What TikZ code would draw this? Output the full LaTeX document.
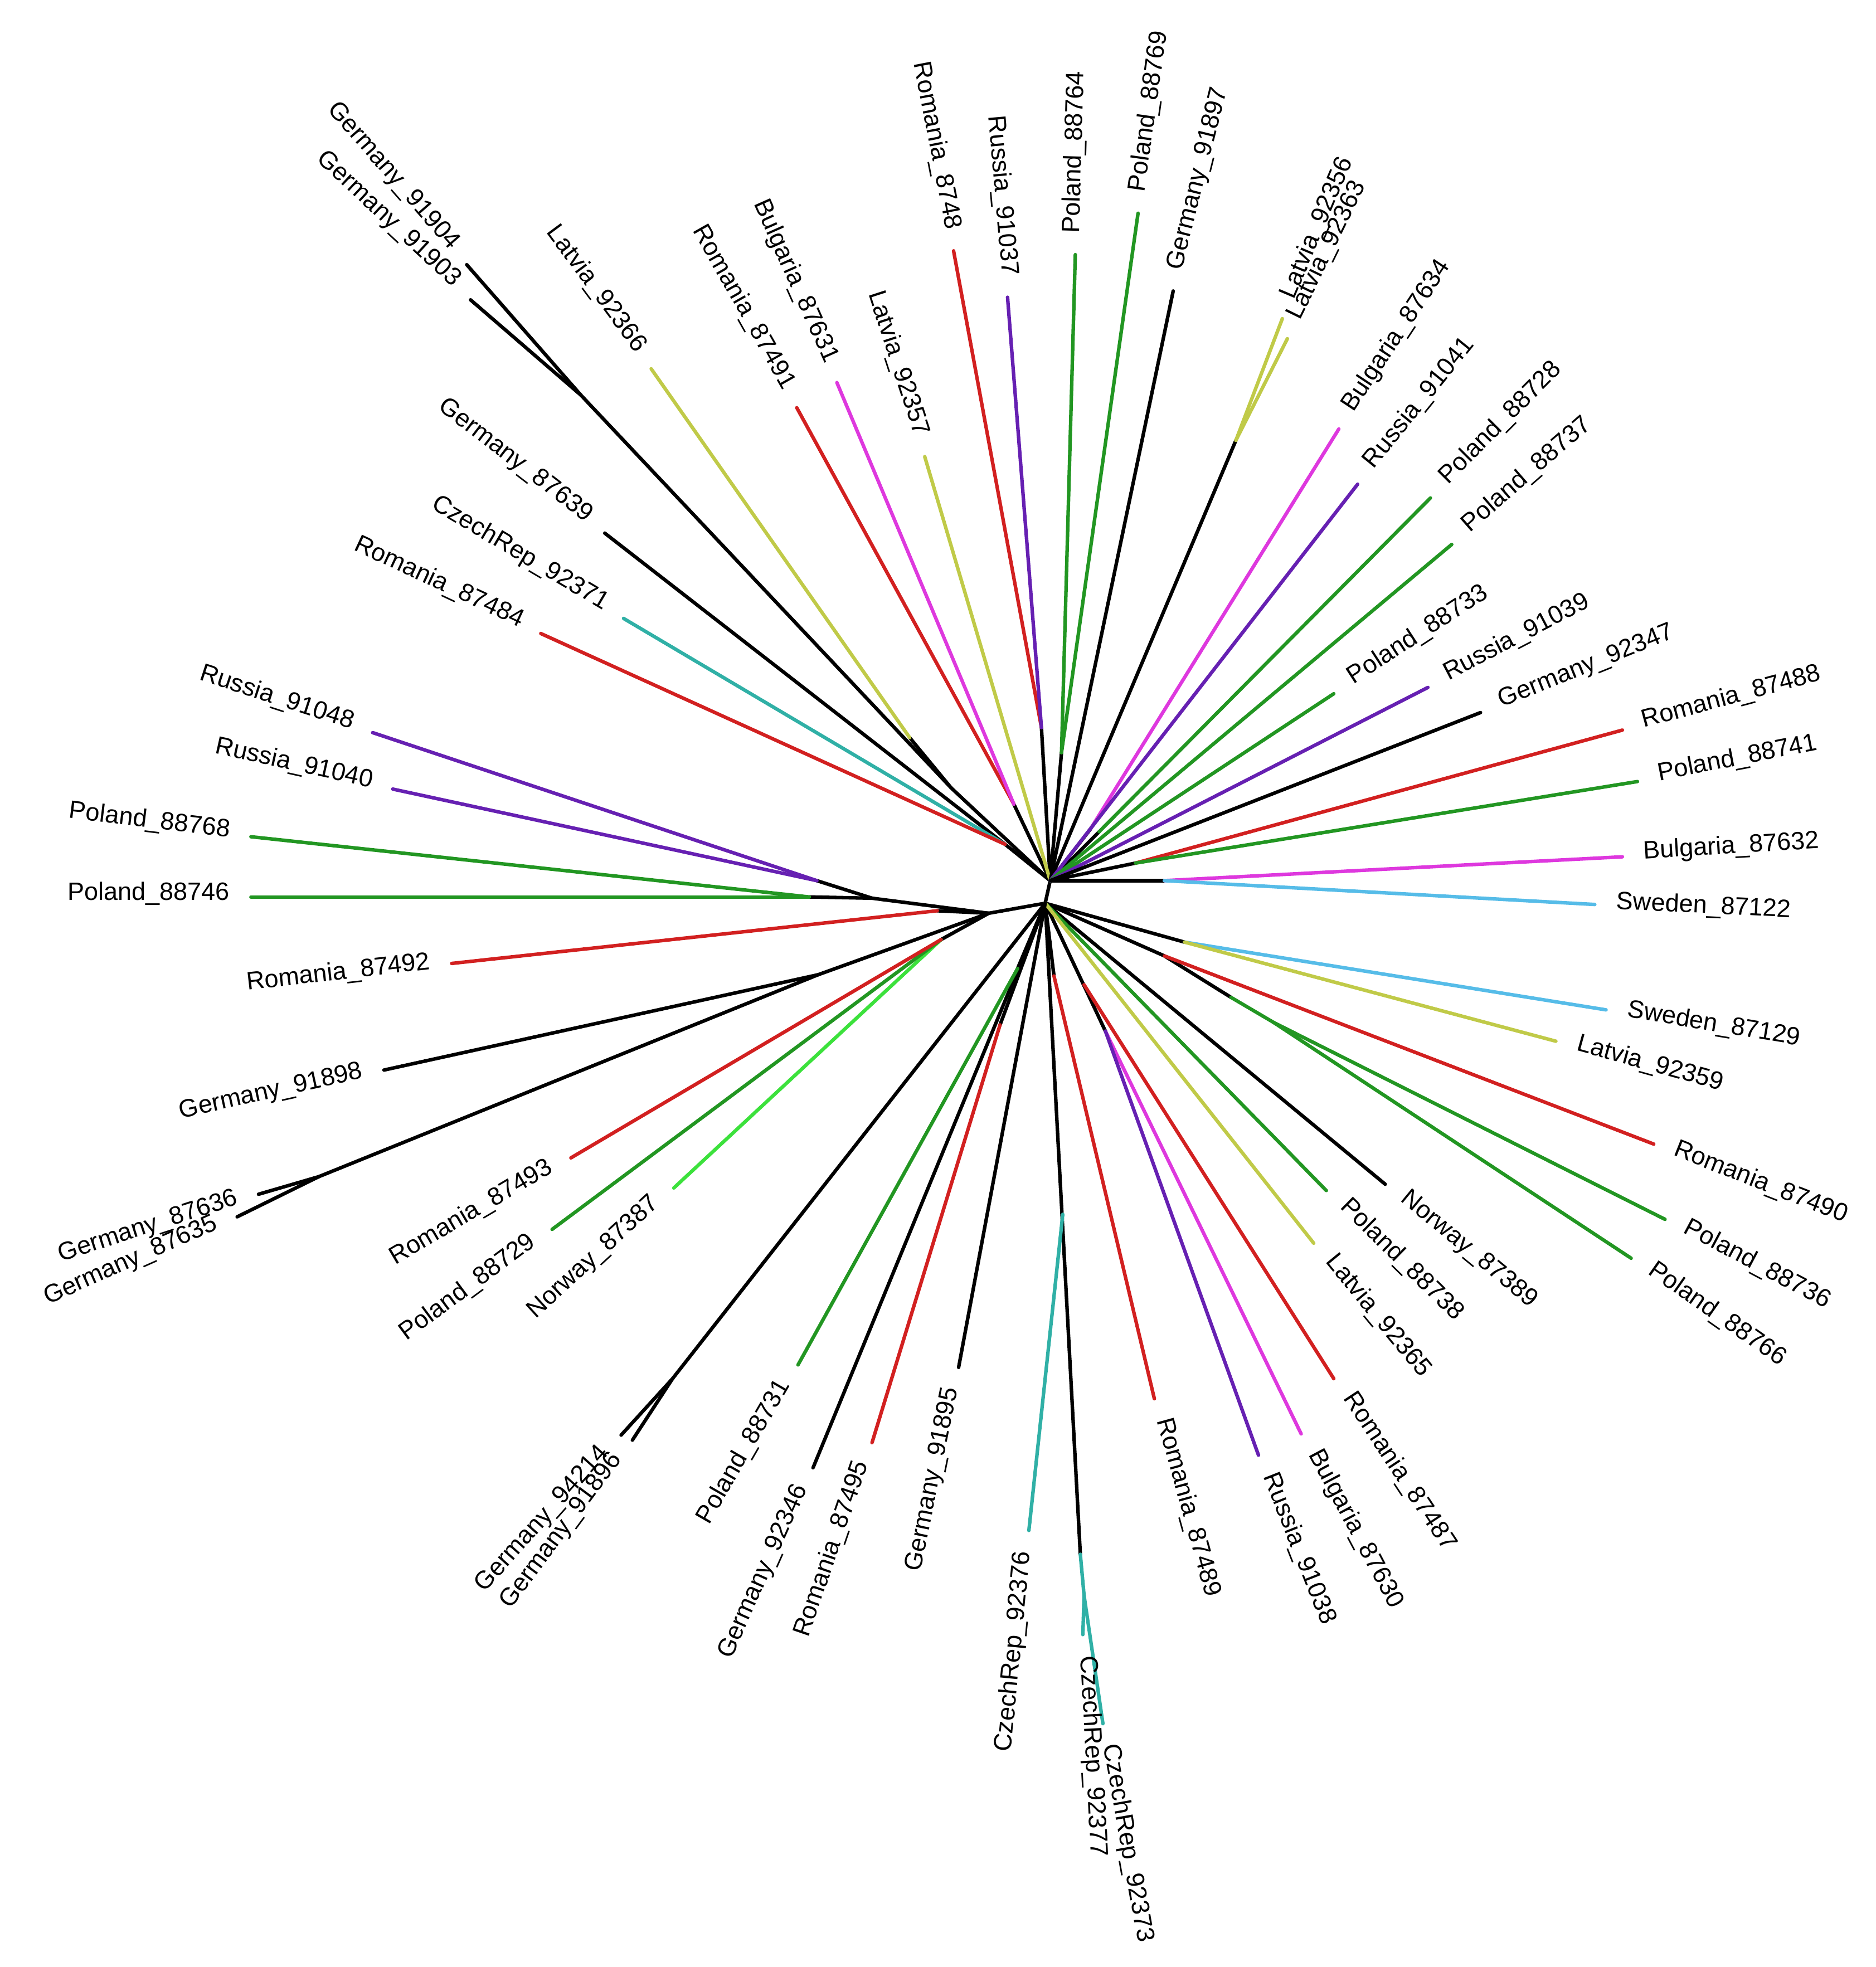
\documentclass[tikz,border=0pt]{standalone}
\usepackage{fontspec}
\setmainfont{Liberation Sans}
\newcommand\lblfont{\fontsize{20}{24}\selectfont}
\definecolor{cred}{RGB}{210,32,32}
\definecolor{cgreen}{RGB}{34,150,34}
\definecolor{clime}{RGB}{60,225,60}
\definecolor{cpurple}{RGB}{102,32,178}
\definecolor{cmag}{RGB}{222,56,222}
\definecolor{cyel}{RGB}{192,202,72}
\definecolor{cteal}{RGB}{48,176,166}
\definecolor{cblue}{RGB}{86,188,232}
\begin{document}
\begin{tikzpicture}[x=1pt,y=-1pt,
  br/.style={line width=2.8pt, line cap=round},
  lab/.style={font=\lblfont, inner sep=17pt},
  labL/.style={lab, anchor=mid east},
  labR/.style={lab, anchor=mid west}]
\useasboundingbox (0,0) rectangle (1495,1568);
% internal nodes
\coordinate (U) at (837,702);
\coordinate (L) at (833,720);
\coordinate (H) at (788,728);
\coordinate (A) at (801,673);
\coordinate (B1) at (463,315);
\coordinate (B2) at (758,628);
\coordinate (Y1) at (725,588);
\coordinate (Cn) at (808,641);
\coordinate (C) at (830,580);
\coordinate (D) at (846,600);
\coordinate (Y2) at (985,351);
\coordinate (mBk) at (869,661);
\coordinate (gBk) at (876,663);
\coordinate (E) at (905,688);
\coordinate (F) at (928,702);
\coordinate (S) at (944,751);
\coordinate (G1) at (928,762);
\coordinate (G2) at (981,795);
\coordinate (G3) at (1015,815);
\coordinate (N) at (864,785);
\coordinate (M) at (881,822);
\coordinate (Rb) at (840,778);
\coordinate (K) at (847,968);
\coordinate (J) at (861,1239);
\coordinate (J2) at (864,1272);
\coordinate (Rc) at (797,817);
\coordinate (Pc) at (811,772);
\coordinate (W) at (536,1099);
\coordinate (P) at (750,749);
\coordinate (Q) at (652,777);
\coordinate (J1) at (254,938);
\coordinate (Rd) at (747,726);
\coordinate (R1) at (651,702);
\coordinate (R2) at (645,715);
\coordinate (R3) at (695,716);
% tips
\coordinate (t01) at (372,211);
\coordinate (t02) at (375,239);
\coordinate (t03) at (519,294);
\coordinate (t04) at (482,425);
\coordinate (t05) at (497,493);
\coordinate (t06) at (431,505);
\coordinate (t07) at (635,325);
\coordinate (t08) at (667,305);
\coordinate (t09) at (737,364);
\coordinate (t10) at (760,200);
\coordinate (t11) at (803,237);
\coordinate (t12) at (857,203);
\coordinate (t13) at (907,170);
\coordinate (t14) at (935,232);
\coordinate (t15) at (1022,254);
\coordinate (t16) at (1026,270);
\coordinate (t17) at (1067,342);
\coordinate (t18) at (1082,386);
\coordinate (t19) at (1140,397);
\coordinate (t20) at (1157,434);
\coordinate (t21) at (1063,553);
\coordinate (t22) at (1138,548);
\coordinate (t23) at (1180,568);
\coordinate (t24) at (1293,582);
\coordinate (t25) at (1305,623);
\coordinate (t26) at (1293,683);
\coordinate (t27) at (1271,721);
\coordinate (t28) at (1280,805);
\coordinate (t29) at (1240,830);
\coordinate (t30) at (1318,912);
\coordinate (t31) at (1327,972);
\coordinate (t32) at (1300,1003);
\coordinate (t33) at (1104,944);
\coordinate (t34) at (1057,949);
\coordinate (t35) at (1047,991);
\coordinate (t36) at (1063,1099);
\coordinate (t37) at (1037,1143);
\coordinate (t38) at (1003,1160);
\coordinate (t39) at (920,1115);
\coordinate (t40) at (879,1374);
\coordinate (t41) at (863,1303);
\coordinate (t42) at (820,1220);
\coordinate (t43) at (764,1090);
\coordinate (t44) at (695,1150);
\coordinate (t45) at (648,1170);
\coordinate (t46) at (636,1088);
\coordinate (t47) at (495,1144);
\coordinate (t48) at (504,1148);
\coordinate (t49) at (537,947);
\coordinate (t50) at (440,980);
\coordinate (t51) at (455,923);
\coordinate (t52) at (206,952);
\coordinate (t53) at (189,970);
\coordinate (t54) at (306,853);
\coordinate (t55) at (360,768);
\coordinate (t56) at (200,715);
\coordinate (t57) at (200,667);
\coordinate (t58) at (313,629);
\coordinate (t59) at (297,584);
% internal black branches
\draw[br] (U) -- (L);
\draw[br] (A) -- (U);
\draw[br] (B1) -- (B2) -- (U);
\draw[br] (Y1) -- (B2);
\draw[br] (Cn) -- (U);
\draw[br] (C) -- (U);
\draw[br] (D) -- (U);
\draw[br] (Y2) -- (U);
\draw[br] (mBk) -- (U);
\draw[br] (gBk) -- (U);
\draw[br] (E) -- (U);
\draw[br] (F) -- (U);
\draw[br] (S) -- (L);
\draw[br] (G2) -- (G1) -- (L);
\draw[br] (M) -- (L);
\draw[br] (Rb) -- (L);
\draw[br] (J) -- (L);
\draw[br] (Rc) -- (L);
\draw[br] (Pc) -- (L);
\draw[br] (W) -- (L);
\draw[br] (L) -- (H);
\draw[br] (P) -- (H);
\draw[br] (J1) -- (Q) -- (H);
\draw[br] (Rd) -- (H);
\draw[br] (R1) -- (R3);
\draw[br] (R2) -- (R3) -- (H);
% leaf branches
\draw[br] (t01) -- (B1);
\draw[br] (t02) -- (B1);
\draw[br, cyel] (t03) -- (Y1);
\draw[br] (t04) -- (A);
\draw[br, cteal] (t05) -- (A);
\draw[br, cred] (t06) -- (A);
\draw[br, cred] (t07) -- (Cn);
\draw[br, cmag] (t08) -- (Cn);
\draw[br, cyel] (t09) -- (U);
\draw[br, cred] (t10) -- (C);
\draw[br, cpurple] (t11) -- (C);
\draw[br, cgreen] (t12) -- (D);
\draw[br, cgreen] (t13) -- (D);
\draw[br] (t14) -- (U);
\draw[br, cyel] (t15) -- (Y2);
\draw[br, cyel] (t16) -- (Y2);
\draw[br, cmag] (t17) -- (mBk);
\draw[br, cpurple] (t18) -- (U);
\draw[br, cgreen] (t19) -- (gBk);
\draw[br, cgreen] (t20) -- (U);
\draw[br, cgreen] (t21) -- (U);
\draw[br, cpurple] (t22) -- (U);
\draw[br] (t23) -- (U);
\draw[br, cred] (t24) -- (E);
\draw[br, cgreen] (t25) -- (E);
\draw[br, cmag] (t26) -- (F);
\draw[br, cblue] (t27) -- (F);
\draw[br, cblue] (t28) -- (S);
\draw[br, cyel] (t29) -- (S);
\draw[br, cred] (t30) -- (G1);
\draw[br, cgreen] (G3) -- (G2);
\draw[br, cgreen] (t31) -- (G3);
\draw[br, cgreen] (t32) -- (G3);
\draw[br] (t33) -- (L);
\draw[br, cgreen] (t34) -- (L);
\draw[br, cyel] (t35) -- (L);
\draw[br, cred] (t36) -- (N);
\draw[br, cmag] (t37) -- (M);
\draw[br, cpurple] (t38) -- (M);
\draw[br, cred] (t39) -- (Rb);
\draw[br, cteal] (J) -- (J2);
\draw[br, cteal] (t40) -- (J2);
\draw[br, cteal] (t41) -- (J2);
\draw[br, cteal] (t42) -- (K);
\draw[br] (t43) -- (L);
\draw[br, cred] (t44) -- (Rc);
\draw[br] (t45) -- (L);
\draw[br, cgreen] (t46) -- (Pc);
\draw[br] (t47) -- (W);
\draw[br] (t48) -- (W);
\draw[br, clime] (t49) -- (P);
\draw[br, cgreen] (t50) -- (P);
\draw[br, cred] (t51) -- (P);
\draw[br] (t52) -- (J1);
\draw[br] (t53) -- (J1);
\draw[br] (t54) -- (Q);
\draw[br, cred] (t55) -- (Rd);
\draw[br, cgreen] (t56) -- (R2);
\draw[br, cgreen] (t57) -- (R2);
\draw[br, cpurple] (t58) -- (R1);
\draw[br, cpurple] (t59) -- (R1);
% labels
\node[labL, rotate=-48.8] (l01) at (t01) {Germany\_91904};
\node[labL, rotate=-43] (l02) at (t02) {Germany\_91903};
\node[labL, rotate=-53.5] (l03) at (t03) {Latvia\_92366};
\node[labL, rotate=-37.5] (l04) at (t04) {Germany\_87639};
\node[labL, rotate=-30.6] (l05) at (t05) {CzechRep\_92371};
\node[labL, rotate=-25] (l06) at (t06) {Romania\_87484};
\node[labL, rotate=-60.5] (l07) at (t07) {Romania\_87491};
\node[labL, rotate=-66] (l08) at (t08) {Bulgaria\_87631};
\node[labL, rotate=-72] (l09) at (t09) {Latvia\_92357};
\node[labL, rotate=-79] (l10) at (t10) {Romania\_8748};
\node[labL, rotate=-85] (l11) at (t11) {Russia\_91037};
\node[labR, rotate=88.4] (l12) at (t12) {Poland\_88764};
\node[labR, rotate=82] (l13) at (t13) {Poland\_88769};
\node[labR, rotate=76] (l14) at (t14) {Germany\_91897};
\node[labR, rotate=67] (l15) at (t15) {Latvia\_92356};
\node[labR, rotate=64] (l16) at (t16) {Latvia\_92363};
\node[labR, rotate=56.5] (l17) at (t17) {Bulgaria\_87634};
\node[labR, rotate=51] (l18) at (t18) {Russia\_91041};
\node[labR, rotate=45] (l19) at (t19) {Poland\_88728};
\node[labR, rotate=41] (l20) at (t20) {Poland\_88737};
\node[labR, rotate=33] (l21) at (t21) {Poland\_88733};
\node[labR, rotate=27.5] (l22) at (t22) {Russia\_91039};
\node[labR, rotate=22] (l23) at (t23) {Germany\_92347};
\node[labR, rotate=15] (l24) at (t24) {Romania\_87488};
\node[labR, rotate=11] (l25) at (t25) {Poland\_88741};
\node[labR, rotate=3.5] (l26) at (t26) {Bulgaria\_87632};
\node[labR, rotate=-2.8] (l27) at (t27) {Sweden\_87122};
\node[labR, rotate=-9.5] (l28) at (t28) {Sweden\_87129};
\node[labR, rotate=-15.5] (l29) at (t29) {Latvia\_92359};
\node[labR, rotate=-21.5] (l30) at (t30) {Romania\_87490};
\node[labR, rotate=-28] (l31) at (t31) {Poland\_88736};
\node[labR, rotate=-35] (l32) at (t32) {Poland\_88766};
\node[labR, rotate=-39.5] (l33) at (t33) {Norway\_87389};
\node[labR, rotate=-44.5] (l34) at (t34) {Poland\_88738};
\node[labR, rotate=-50.5] (l35) at (t35) {Latvia\_92365};
\node[labR, rotate=-56.5] (l36) at (t36) {Romania\_87487};
\node[labR, rotate=-62] (l37) at (t37) {Bulgaria\_87630};
\node[labR, rotate=-68.5] (l38) at (t38) {Russia\_91038};
\node[labR, rotate=-74.5] (l39) at (t39) {Romania\_87489};
\node[labR, rotate=-80] (l40) at (t40) {CzechRep\_92373};
\node[labR, rotate=-87] (l41) at (t41) {CzechRep\_92377};
\node[labL, rotate=84.5] (l42) at (t42) {CzechRep\_92376};
\node[labL, rotate=78.5] (l43) at (t43) {Germany\_91895};
\node[labL, rotate=71] (l44) at (t44) {Romania\_87495};
\node[labL, rotate=66] (l45) at (t45) {Germany\_92346};
\node[labL, rotate=60] (l46) at (t46) {Poland\_88731};
\node[labL, rotate=48.3] (l47) at (t47) {Germany\_94214};
\node[labL, rotate=53.5] (l48) at (t48) {Germany\_91896};
\node[labL, rotate=42.5] (l49) at (t49) {Norway\_87387};
\node[labL, rotate=36.5] (l50) at (t50) {Poland\_88729};
\node[labL, rotate=30.5] (l51) at (t51) {Romania\_87493};
\node[labL, rotate=18] (l52) at (t52) {Germany\_87636};
\node[labL, rotate=24] (l53) at (t53) {Germany\_87635};
\node[labL, rotate=12.5] (l54) at (t54) {Germany\_91898};
\node[labL, rotate=6.5] (l55) at (t55) {Romania\_87492};
\node[labL, rotate=0] (l56) at (t56) {Poland\_88746};
\node[labL, rotate=-7] (l57) at (t57) {Poland\_88768};
\node[labL, rotate=-12.5] (l58) at (t58) {Russia\_91040};
\node[labL, rotate=-18] (l59) at (t59) {Russia\_91048};
\end{tikzpicture}
\end{document}
